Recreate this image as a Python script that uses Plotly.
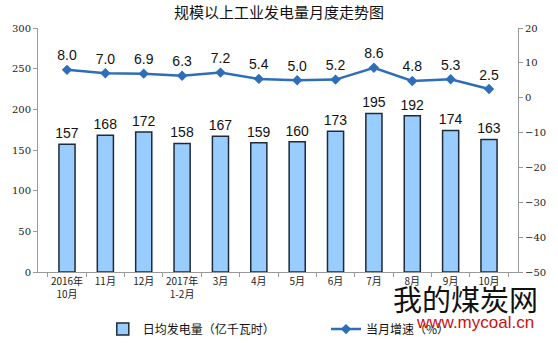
import plotly.graph_objects as go

categories = ["2016年<br>10月", "11月", "12月", "2017年<br>1-2月", "3月", "4月",
              "5月", "6月", "7月", "8月", "9月", "10月"]
daily_output = [157, 168, 172, 158, 167, 159, 160, 173, 195, 192, 174, 163]
growth = [8.0, 7.0, 6.9, 6.3, 7.2, 5.4, 5.0, 5.2, 8.6, 4.8, 5.3, 2.5]

cjk = "Noto Sans CJK SC"
fig = go.Figure()
fig.add_trace(go.Bar(
    x=categories, y=daily_output, name="日均发电量（亿千瓦时）",
    marker=dict(color="#99CCFF", line=dict(color="#1E2B38", width=1.5)),
    width=0.42, text=[str(v) for v in daily_output], textposition="outside",
    constraintext="none", legend="legend",
    textfont=dict(family="Liberation Sans, Arial", size=14, color="#111"),
    cliponaxis=False,
))
fig.add_trace(go.Scatter(
    x=categories, y=growth, name="当月增速（%）", yaxis="y2",
    mode="lines+markers+text", legend="legend2",
    line=dict(color="#2E6EB8", width=2.5),
    marker=dict(symbol="diamond", size=8, color="#2E6EB8"),
    text=[f"{v:.1f}" for v in growth], textposition="top center",
    textfont=dict(family="Liberation Sans, Arial", size=14, color="#111"),
    cliponaxis=False,
))

legend_common = dict(orientation="h", xanchor="left", y=-0.234, yanchor="middle",
                     font=dict(family=cjk, size=12, color="#111"),
                     bgcolor="rgba(0,0,0,0)")
fig.update_layout(
    width=558, height=343,
    margin=dict(l=38, r=40, t=28, b=71, autoexpand=False),
    paper_bgcolor="white", plot_bgcolor="white",
    title=dict(text="规模以上工业发电量月度走势图", x=0.5, xanchor="center",
               y=0.962, yanchor="middle",
               font=dict(family=cjk, size=15, color="#111")),
    showlegend=True,
    legend=dict(x=0.135, **legend_common),
    legend2=dict(x=0.6, **legend_common),
    bargap=0.58,
    xaxis=dict(showline=True, linecolor="#999", ticks="outside", tickson="boundaries",
               ticklen=4, tickcolor="#999", showgrid=False, tickangle=0,
               automargin=False,
               tickfont=dict(family=cjk, size=10, color="#222")),
    yaxis=dict(range=[0, 300], dtick=50, showline=True, linecolor="#999",
               ticks="outside", ticklen=4, tickcolor="#999", showgrid=False,
               zeroline=False, automargin=False,
               tickfont=dict(family="DejaVu Serif", size=10, color="#222")),
    yaxis2=dict(range=[-50, 20], dtick=10, overlaying="y", side="right",
                showline=True, linecolor="#999", ticks="outside", ticklen=4,
                tickcolor="#999", showgrid=False, zeroline=False, automargin=False,
                tickfont=dict(family="DejaVu Serif", size=10, color="#222")),
)

fig.add_annotation(text="我的煤炭网", xref="paper", yref="paper", x=0.89, y=-0.107,
                   xanchor="center", yanchor="middle", showarrow=False,
                   font=dict(family=cjk, size=29, color="#111"))
fig.add_annotation(text="www.mycoal.cn", xref="paper", yref="paper", x=0.91, y=-0.205,
                   xanchor="center", yanchor="middle", showarrow=False,
                   font=dict(family="Liberation Sans, Arial", size=17, color="#CC1111"))

fig.write_html("out.html")
